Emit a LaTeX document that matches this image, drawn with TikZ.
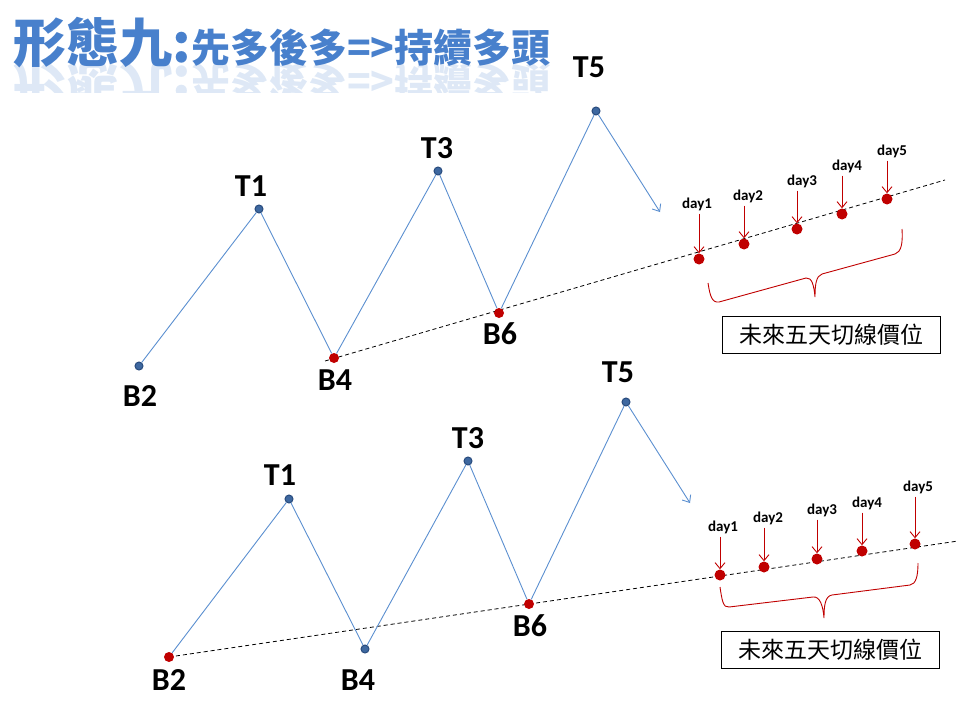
\documentclass[tikz,border=0pt]{standalone}
\usepackage{fontspec}
\setmainfont{Carlito}
\newfontfamily\cjk{Noto Sans CJK TC}
\usetikzlibrary{arrows.meta}
\definecolor{wavec}{RGB}{91,143,208}
\definecolor{dotc}{RGB}{62,104,160}
\definecolor{dotedge}{RGB}{40,75,125}
\definecolor{redc}{RGB}{192,0,0}
\definecolor{titlec}{RGB}{72,128,204}
\begin{document}
\begin{tikzpicture}[x=1pt,y=-1pt,
  wave/.style={draw=wavec,line width=0.9pt},
  bdot/.style={circle,fill=dotc,draw=dotedge,line width=1pt,minimum size=8pt,inner sep=0pt},
  rdot/.style={circle,fill=redc,minimum size=10pt,inner sep=0pt},
  ddot/.style={circle,fill=redc,minimum size=11pt,inner sep=0pt},
  lbl/.style={font=\fontsize{32}{32}\selectfont\bfseries,inner sep=0pt},
  daylbl/.style={font=\fontsize{15}{15}\selectfont\bfseries,inner sep=0pt},
  trend/.style={draw=black,line width=0.8pt,dash pattern=on 4pt off 3pt},
  dayarrow/.style={draw=redc,line width=0.9pt,-{Straight Barb[length=6pt,width=10pt]}},
  bracec/.style={draw=redc,line width=0.9pt},
  pricebox/.style={draw=black,line width=0.9pt,minimum width=218pt,minimum height=37pt,inner sep=0pt,font=\cjk\fontsize{23}{23}\selectfont},
  titlebig/.style={font=\cjk\bfseries\fontsize{53}{53}\selectfont,text=titlec,inner sep=0pt},
  titlesmall/.style={font=\cjk\bfseries\fontsize{39}{39}\selectfont,text=titlec,inner sep=0pt}]
\useasboundingbox (0,0) rectangle (960,720);

% title
\node[titlebig,anchor=base west] (ttl) at (13,62) {形態九:};
\node[titlesmall,anchor=base west] (ttr) at (ttl.base east) {先多後多=>持續多頭};
\begin{scope}
\clip (0,63) rectangle (570,92);
\node[titlebig,anchor=base west,yscale=-1,text opacity=0.18] (rttl) at (13,66) {形態九:};
\node[titlesmall,anchor=base west,yscale=-1,text opacity=0.18] (rttr) at (rttl.base east) {先多後多=>持續多頭};
\end{scope}

% upper wave
\coordinate (s1) at (325,361);
\coordinate (f1) at (945,180);
\draw[trend] (s1) -- (f1);
\node[bdot] (b2) at (139,366) {};
\node[bdot] (t1) at (259,209) {};
\node[rdot] (b4) at (334,358) {};
\node[bdot] (t3) at (438,171) {};
\node[rdot] (b6) at (499,313) {};
\node[bdot] (t5) at (596,111) {};
\coordinate (e1) at (660,212);
\draw[wave] (b2) -- (t1) -- (b4) -- (t3) -- (b6) -- (t5);
\draw[wave,-{Straight Barb[length=6pt,width=10pt]}] (t5) -- (e1);
\node[lbl] (b2l) at (140,396) {B2};
\node[lbl] (t1l) at (251,186) {T1};
\node[lbl] (b4l) at (335,380) {B4};
\node[lbl] (t3l) at (437,148) {T3};
\node[lbl] (b6l) at (500,334) {B6};
\node[lbl] (t5l) at (589,67) {T5};

\node[ddot] (d1) at (699,259) {};
\node[ddot] (d2) at (744,244) {};
\node[ddot] (d3) at (797,229) {};
\node[ddot] (d4) at (842,214) {};
\node[ddot] (d5) at (887,199) {};
\node[daylbl] (d1l) at (697,204) {day1};
\node[daylbl] (d2l) at (748,196) {day2};
\node[daylbl] (d3l) at (802,181) {day3};
\node[daylbl] (d4l) at (847,166) {day4};
\node[daylbl] (d5l) at (892,151) {day5};
\foreach \i in {1,...,5}
  \draw[dayarrow] (d\i |- d\i l.south) ++(0,3) -- (d\i);

\draw[bracec] (708,283) .. controls (710,296) and (712,303) .. (719,302) -- (806,278)
  .. controls (812,277) and (814,286) .. (815,297)
  .. controls (815,285) and (816,276) .. (822,274) -- (895,254)
  .. controls (901,252) and (903,244) .. (902,229);
\node[pricebox] (box1) at (831,335) {未來五天切線價位};

% lower wave
\coordinate (s2) at (169,657);
\coordinate (f2) at (958,541);
\draw[trend] (s2) -- (f2);
\node[rdot] (b2b) at (169,657) {};
\node[bdot] (t1b) at (289,499) {};
\node[bdot] (b4b) at (365,649) {};
\node[bdot] (t3b) at (468,461) {};
\node[rdot] (b6b) at (529,604) {};
\node[bdot] (t5b) at (626,402) {};
\coordinate (e2) at (690,503);
\draw[wave] (b2b) -- (t1b) -- (b4b) -- (t3b) -- (b6b) -- (t5b);
\draw[wave,-{Straight Barb[length=6pt,width=10pt]}] (t5b) -- (e2);
\node[lbl] (b2bl) at (169,680) {B2};
\node[lbl] (t1bl) at (280,475) {T1};
\node[lbl] (b4bl) at (358,680) {B4};
\node[lbl] (t3bl) at (468,438) {T3};
\node[lbl] (b6bl) at (530,626) {B6};
\node[lbl] (t5bl) at (618,372) {T5};

\node[ddot] (e1d) at (720,575) {};
\node[ddot] (e2d) at (764,567) {};
\node[ddot] (e3d) at (817,559) {};
\node[ddot] (e4d) at (862,551) {};
\node[ddot] (e5d) at (915,544) {};
\node[daylbl] (e1l) at (723,527) {day1};
\node[daylbl] (e2l) at (768,518) {day2};
\node[daylbl] (e3l) at (822,510) {day3};
\node[daylbl] (e4l) at (867,503) {day4};
\node[daylbl] (e5l) at (918,487) {day5};
\foreach \i in {1,...,5}
  \draw[dayarrow] (e\i d |- e\i l.south) ++(0,3) -- (e\i d);

\draw[bracec] (720,587) .. controls (722,600) and (723,608) .. (729,607) -- (813,597)
  .. controls (820,596) and (823,606) .. (824,618)
  .. controls (824,606) and (825,596) .. (832,595) -- (910,585)
  .. controls (916,584) and (918,576) .. (918,563);
\node[pricebox] (box2) at (830,650) {未來五天切線價位};
\end{tikzpicture}
\end{document}
